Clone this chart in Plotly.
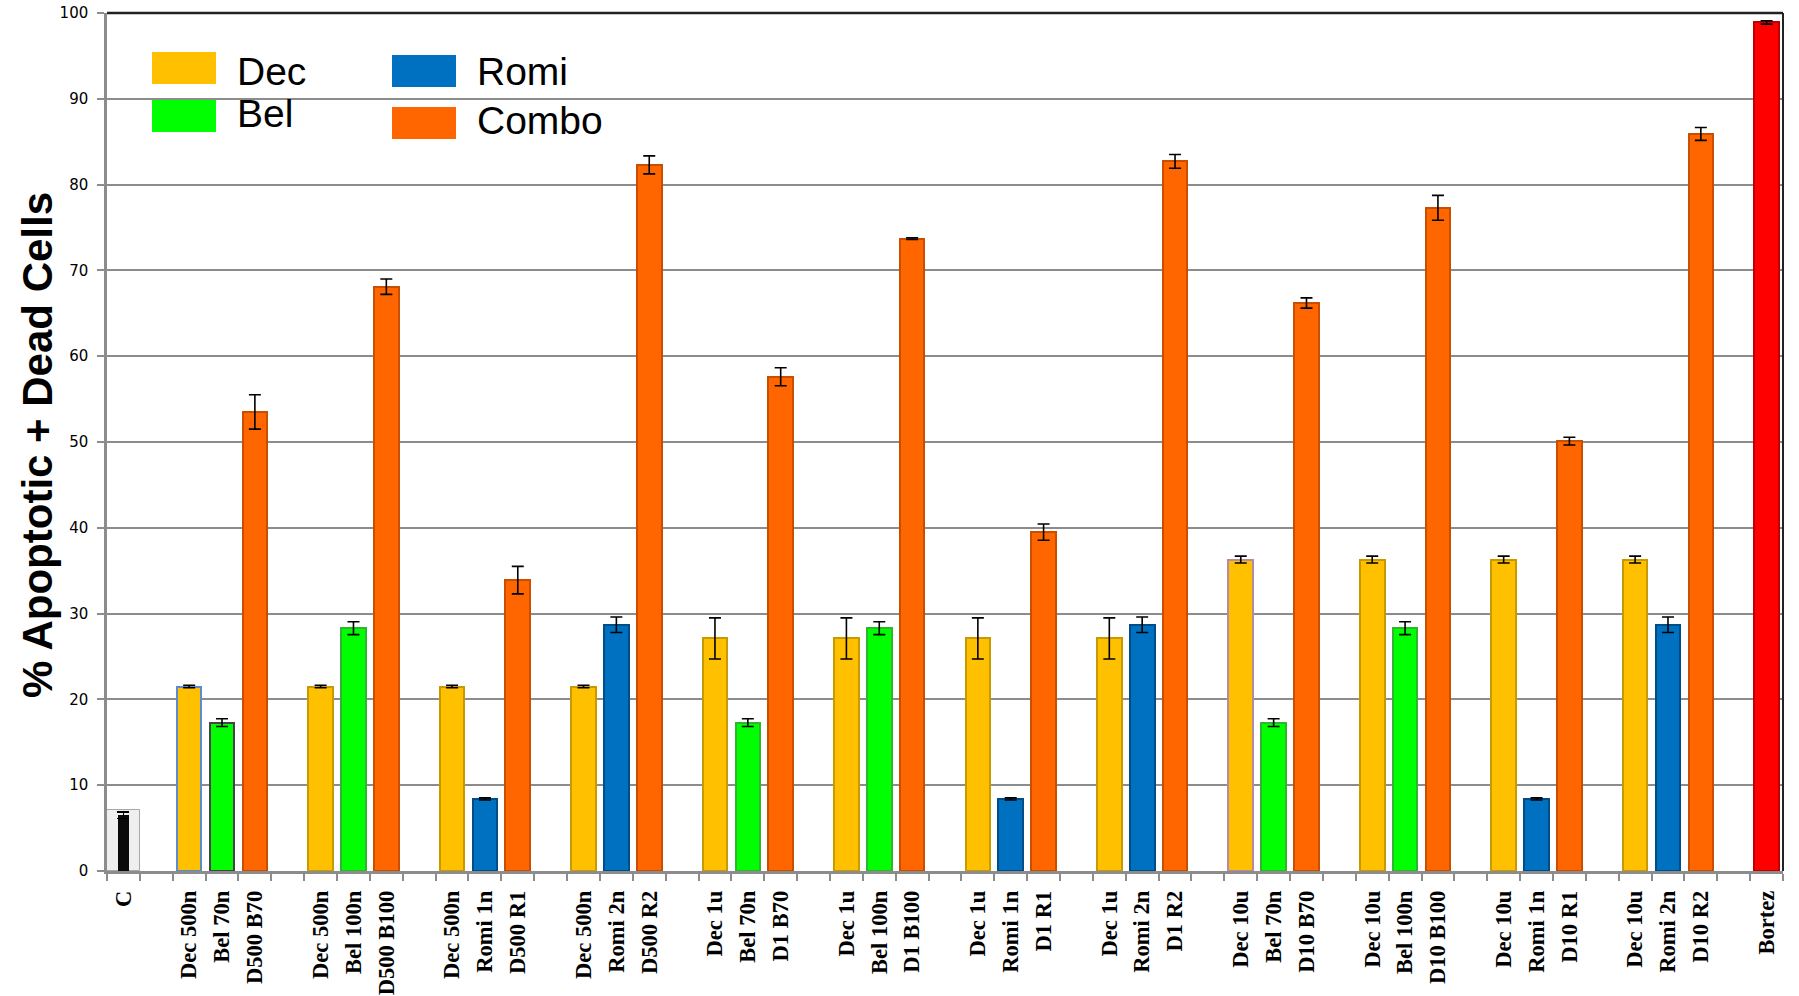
import plotly.graph_objects as go

# ---------------- data ----------------
control_label = "C"
control_value = 6.5
control_err = 0.4

group_labels = [
    ["Dec 500n", "Bel 70n", "D500 B70"],
    ["Dec 500n", "Bel 100n", "D500 B100"],
    ["Dec 500n", "Romi 1n", "D500 R1"],
    ["Dec 500n", "Romi 2n", "D500 R2"],
    ["Dec 1u", "Bel 70n", "D1 B70"],
    ["Dec 1u", "Bel 100n", "D1 B100"],
    ["Dec 1u", "Romi 1n", "D1 R1"],
    ["Dec 1u", "Romi 2n", "D1 R2"],
    ["Dec 10u", "Bel 70n", "D10 B70"],
    ["Dec 10u", "Bel 100n", "D10 B100"],
    ["Dec 10u", "Romi 1n", "D10 R1"],
    ["Dec 10u", "Romi 2n", "D10 R2"],
]
partner_drug = ["Bel", "Bel", "Romi", "Romi", "Bel", "Bel", "Romi", "Romi", "Bel", "Bel", "Romi", "Romi"]

dec_values = [21.5, 21.5, 21.5, 21.5, 27.1, 27.1, 27.1, 27.1, 36.3, 36.3, 36.3, 36.3]
dec_errors = [0.15, 0.15, 0.15, 0.15, 2.4, 2.4, 2.4, 2.4, 0.4, 0.4, 0.4, 0.4]

partner_values = [17.3, 28.3, 8.4, 28.7, 17.3, 28.3, 8.4, 28.7, 17.3, 28.3, 8.4, 28.7]
partner_errors = [0.45, 0.75, 0.12, 0.9, 0.45, 0.75, 0.12, 0.9, 0.45, 0.75, 0.12, 0.9]

combo_values = [53.5, 68.1, 33.9, 82.3, 57.6, 73.7, 39.5, 82.7, 66.2, 77.3, 50.1, 85.9]
combo_errors = [2.0, 0.9, 1.6, 1.05, 1.05, 0.1, 0.95, 0.8, 0.6, 1.45, 0.45, 0.75]

bortez_label = "Bortez"
bortez_value = 98.9
bortez_err = 0.2

legend_names = ["Dec", "Bel", "Romi", "Combo"]

# ---------------- styles ----------------
C_DEC, C_BEL, C_ROMI, C_COMBO, C_BORTEZ = "#FFC000", "#00FF00", "#0070C0", "#FF6600", "#FF0000"
E_DEC, E_BEL, E_ROMI, E_COMBO, E_BORTEZ = "#C89A00", "#2FB52F", "#004E88", "#C84F00", "#C00000"

# slot layout: C, gap, then 12 groups of 3 bars each followed by a gap, then Bortez
ctrl_x = 0
dec_x, partner_x, combo_x = [], [], []
tick_text = [control_label, ""]
for g, trip in enumerate(group_labels):
    s = 2 + 4 * g
    dec_x.append(s); partner_x.append(s + 1); combo_x.append(s + 2)
    tick_text += trip + [""]
bortez_x = len(tick_text)
tick_text.append(bortez_label)
n_slots = len(tick_text)

bel_x = [x for x, d in zip(partner_x, partner_drug) if d == "Bel"]
bel_v = [v for v, d in zip(partner_values, partner_drug) if d == "Bel"]
bel_e = [v for v, d in zip(partner_errors, partner_drug) if d == "Bel"]
romi_x = [x for x, d in zip(partner_x, partner_drug) if d == "Romi"]
romi_v = [v for v, d in zip(partner_values, partner_drug) if d == "Romi"]
romi_e = [v for v, d in zip(partner_errors, partner_drug) if d == "Romi"]

BW = 0.75
ERR = dict(type="data", visible=True, color="black", thickness=1.6, width=6)

dec_line = [E_DEC] * len(dec_x)
dec_line[0] = "#5B8BD0"
dec_line[8] = "#B58AA8"
bel_line = [E_BEL] * len(bel_x)
bel_line[0] = "#444444"

fig = go.Figure()

# control: light box + black bar
fig.add_trace(go.Bar(x=[ctrl_x], y=[7.1], width=[1.0], marker=dict(color="#EFEFEF", line=dict(color="#A8A8A8", width=1)),
                     showlegend=False, hoverinfo="skip"))
fig.add_trace(go.Bar(x=[ctrl_x], y=[control_value], width=[0.33], marker=dict(color="#0A0A0A", line=dict(width=0)),
                     error_y=dict(ERR, array=[control_err]), showlegend=False))

fig.add_trace(go.Bar(x=dec_x, y=dec_values, width=BW, name="Dec",
                     marker=dict(color=C_DEC, line=dict(color=dec_line, width=2)),
                     error_y=dict(ERR, array=dec_errors), showlegend=False))
fig.add_trace(go.Bar(x=bel_x, y=bel_v, width=BW, name="Bel",
                     marker=dict(color=C_BEL, line=dict(color=bel_line, width=2)),
                     error_y=dict(ERR, array=bel_e), showlegend=False))
fig.add_trace(go.Bar(x=romi_x, y=romi_v, width=BW, name="Romi",
                     marker=dict(color=C_ROMI, line=dict(color=E_ROMI, width=2)),
                     error_y=dict(ERR, array=romi_e), showlegend=False))
fig.add_trace(go.Bar(x=combo_x, y=combo_values, width=BW, name="Combo",
                     marker=dict(color=C_COMBO, line=dict(color=E_COMBO, width=2)),
                     error_y=dict(ERR, array=combo_errors), showlegend=False))
fig.add_trace(go.Bar(x=[bortez_x], y=[bortez_value], width=BW, name="Bortez",
                     marker=dict(color=C_BORTEZ, line=dict(color=E_BORTEZ, width=2)),
                     error_y=dict(ERR, array=[bortez_err]), showlegend=False))

# ---------------- layout ----------------
W, H = 1799, 996
L, R, T, B = 107, 1783, 13, 871


def px(x):
    return (x - L) / (R - L)


def py(y):
    return (B - y) / (B - T)


GRID = "#8C8C8C"
fig.update_layout(
    width=W, height=H,
    margin=dict(l=L, r=W - R, t=T, b=H - B, pad=0, autoexpand=False),
    paper_bgcolor="white", plot_bgcolor="white",
    barmode="overlay", bargap=0,
    font=dict(family="DejaVu Sans", color="black"),
    xaxis=dict(
        range=[-0.5, n_slots - 0.5], tickmode="array", automargin=False,
        tickvals=list(range(n_slots)), ticktext=tick_text, tickangle=-90,
        ticks="", ticklabelstandoff=8,
        tickfont=dict(family="Liberation Serif", size=22.5, color="black", weight="bold"),
        showgrid=False, zeroline=False, showline=True, linecolor=GRID, linewidth=2.5,
        minor=dict(tickmode="array", tickvals=[i - 0.5 for i in range(n_slots + 1)],
                   ticks="outside", ticklen=7, tickcolor=GRID, tickwidth=2, showgrid=False),
    ),
    yaxis=dict(
        range=[0, 100], tickmode="array", tickvals=list(range(0, 101, 10)), automargin=False,
        ticks="outside", ticklen=7, tickcolor=GRID, tickwidth=2, ticklabelstandoff=6,
        tickfont=dict(family="DejaVu Sans", size=15, color="black"),
        showgrid=True, gridcolor=GRID, gridwidth=2,
        zeroline=False, showline=True, linecolor=GRID, linewidth=2.5,
    ),
)

shapes = [
    dict(type="line", xref="paper", yref="paper", x0=0, x1=1, y0=1, y1=1, line=dict(color="#222222", width=2.5)),
    dict(type="line", xref="paper", yref="paper", x0=1, x1=1, y0=0, y1=1, line=dict(color="#222222", width=2)),
]

# manual legend (two columns, large swatches)
legend_items = [
    (legend_names[0], C_DEC, 152, 52, 237, 71),
    (legend_names[1], C_BEL, 152, 100, 237, 114),
    (legend_names[2], C_ROMI, 392, 55, 477, 72),
    (legend_names[3], C_COMBO, 392, 107, 477, 120),
]
annotations = []
for name, col, sx, sy, tx, ty in legend_items:
    shapes.append(dict(type="rect", xref="paper", yref="paper", x0=px(sx), x1=px(sx + 64),
                       y0=py(sy + 32), y1=py(sy), fillcolor=col, line=dict(width=0), layer="above"))
    annotations.append(dict(text=name, xref="paper", yref="paper", x=px(tx - 2), y=py(ty),
                            xanchor="left", yanchor="middle", showarrow=False,
                            font=dict(family="Liberation Sans", size=39, color="black")))

annotations.append(dict(text="% Apoptotic + Dead Cells", xref="paper", yref="paper",
                        x=px(37), y=py(445), xanchor="center", yanchor="middle", textangle=-90,
                        showarrow=False,
                        font=dict(family="Liberation Sans", size=42, color="black", weight="bold")))

fig.update_layout(shapes=shapes, annotations=annotations)

fig.write_html("out.html")
